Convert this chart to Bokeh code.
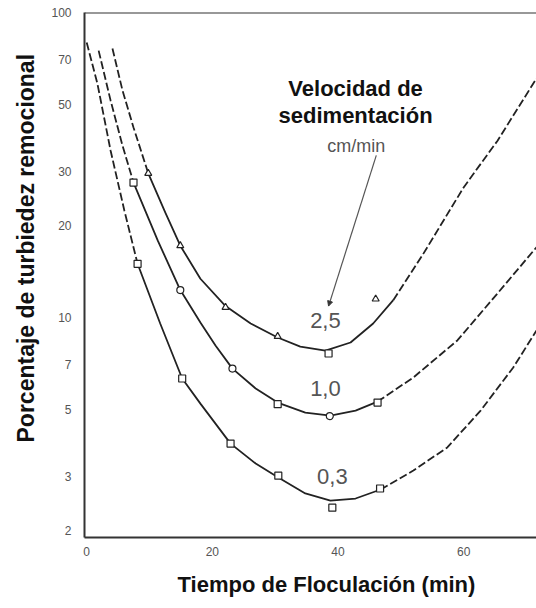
from bokeh.plotting import figure
from bokeh.models import (FixedTicker, NumeralTickFormatter, Title, Span, Arrow,
                          NormalHead, ColumnDataSource)
from bokeh.core.properties import value
from bokeh.embed import file_html
from bokeh.resources import INLINE

# ---------------- data ----------------
x_ticks = [0, 20, 40, 60]
y_ticks = [2, 3, 5, 7, 10, 20, 30, 50, 70, 100]

# 2,5 cm/min curve
c25_left_t = [4.1, 5.7, 7.45, 9.8]
c25_left_v = [76.2, 55.5, 42.0, 29.7]
c25_mid_t = [9.8, 12.5, 14.9, 18.1, 22.1, 26.1, 30.4, 34.0, 38.0, 42.0, 45.6, 48.8]
c25_mid_v = [29.7, 22.1, 17.2, 13.4, 10.9, 9.56, 8.60, 8.03, 7.79, 8.28, 9.56, 11.4]
c25_right_t = [48.8, 53.6, 60.0, 65.4, 71.6]
c25_right_v = [11.4, 16.2, 26.7, 38.0, 60.8]
c25_pts_t = [9.8, 14.9, 22.1, 30.4, 38.5, 46.0]
c25_pts_v = [29.7, 17.2, 10.8, 8.67, 7.62, 11.5]
c25_marks = ["triangle", "triangle", "triangle", "triangle", "square", "triangle"]

# 1,0 cm/min curve
c10_left_t = [1.9, 3.8, 5.7, 7.45]
c10_left_v = [75.0, 51.5, 36.6, 27.7]
c10_mid_t = [7.45, 11.3, 14.9, 18.1, 20.5, 23.2, 26.9, 30.4, 34.8, 38.8, 42.8, 46.3]
c10_mid_v = [27.7, 17.9, 12.3, 9.63, 8.09, 6.80, 5.85, 5.26, 4.88, 4.77, 4.95, 5.30]
c10_right_t = [46.3, 52.0, 59.0, 65.4, 71.6]
c10_right_v = [5.30, 6.36, 8.41, 12.0, 17.0]
c10_pts_t = [7.45, 14.9, 23.2, 30.4, 38.7, 46.3]
c10_pts_v = [27.7, 12.3, 6.80, 5.20, 4.75, 5.26]
c10_marks = ["square", "circle", "circle", "square", "circle", "square"]

# 0,3 cm/min curve
c03_left_t = [0.0, 1.7, 3.8, 6.0, 8.1]
c03_left_v = [79.7, 58.5, 35.3, 22.4, 15.0]
c03_mid_t = [8.1, 11.7, 15.2, 18.1, 22.9, 26.9, 30.5, 34.8, 38.8, 42.8, 46.8]
c03_mid_v = [15.0, 9.56, 6.31, 5.22, 3.86, 3.32, 2.99, 2.65, 2.51, 2.55, 2.73]
c03_right_t = [46.8, 52.0, 57.4, 62.7, 67.9, 71.6]
c03_right_v = [2.73, 3.15, 3.75, 4.95, 6.86, 9.06]
c03_pts_t = [8.1, 15.2, 22.9, 30.5, 39.1, 46.7]
c03_pts_v = [15.0, 6.31, 3.86, 3.03, 2.38, 2.75]
c03_marks = ["square"] * 6

curve_labels = ["2,5", "1,0", "0,3"]
curve_label_t = [38.0, 38.0, 39.1]
curve_label_v = [9.78, 5.85, 3.01]

legend_title = ["Velocidad de", "sedimentación"]
legend_title_t = [42.8, 42.8]
legend_title_v = [56.3, 45.9]
unit_text = ["cm/min"]
unit_t = [42.9]
unit_v = [36.4]
leader_t = [46.1, 38.5]
leader_v = [34.0, 10.9]

x_title = "Tiempo de Floculación (min)"
y_title = "Porcentaje de turbiedez remocional"

# ---------------- figure ----------------
INK = "#222222"
p = figure(width=536, height=608, x_range=(-0.35, 71.6), y_range=(1.9, 100),
           y_axis_type="log", output_backend="svg", toolbar_location=None,
           min_border_left=84, min_border_top=12, min_border_right=0,
           min_border_bottom=71)
p.outline_line_color = None
p.xgrid.grid_line_color = None
p.ygrid.grid_line_color = None
p.background_fill_color = "white"

for ax in (p.xaxis[0], p.yaxis[0]):
    ax.axis_line_color = "#333333"
    ax.axis_line_width = 2
    ax.major_tick_line_color = None
    ax.minor_tick_line_color = None
    ax.major_tick_out = 0
    ax.minor_tick_out = 0
    ax.major_label_text_font = "Liberation Sans"
    ax.major_label_text_font_size = "12px"
    ax.major_label_text_color = "#555555"

p.xaxis.ticker = FixedTicker(ticks=x_ticks, minor_ticks=[])
p.yaxis.ticker = FixedTicker(ticks=y_ticks, minor_ticks=[])
p.yaxis.formatter = NumeralTickFormatter(format="0")
p.xaxis.formatter = NumeralTickFormatter(format="0")
p.yaxis.major_label_standoff = 13
p.xaxis.major_label_standoff = 9

p.add_layout(Span(location=100, dimension="width", line_color="#333333", line_width=2))

curves = [
    (c25_left_t, c25_left_v, c25_mid_t, c25_mid_v, c25_right_t, c25_right_v,
     c25_pts_t, c25_pts_v, c25_marks),
    (c10_left_t, c10_left_v, c10_mid_t, c10_mid_v, c10_right_t, c10_right_v,
     c10_pts_t, c10_pts_v, c10_marks),
    (c03_left_t, c03_left_v, c03_mid_t, c03_mid_v, c03_right_t, c03_right_v,
     c03_pts_t, c03_pts_v, c03_marks),
]
for lt, lv, mt, mv, rt, rv, pt, pv, mk in curves:
    p.line(lt, lv, line_color=INK, line_width=1.8, line_dash="8 3")
    p.line(mt, mv, line_color=INK, line_width=1.8)
    p.line(rt, rv, line_color=INK, line_width=1.8, line_dash="8 3")
    src = ColumnDataSource(dict(t=pt, v=pv, m=mk))
    p.scatter("t", "v", marker="m", source=src, size=7, fill_color="white",
              line_color=INK, line_width=1.2)

p.text(x=curve_label_t, y=curve_label_v, text=curve_labels,
       text_font=value("Liberation Sans"), text_font_size=value("22px"),
       text_color="#555555", text_align="center", text_baseline="middle")
p.text(x=legend_title_t, y=legend_title_v, text=legend_title,
       text_font=value("Liberation Sans"), text_font_size=value("22px"),
       text_font_style="bold", text_color="#111111", text_align="center",
       text_baseline="alphabetic")
p.text(x=unit_t, y=unit_v, text=unit_text,
       text_font=value("Liberation Sans"), text_font_size=value("18px"),
       text_color="#555555", text_align="center", text_baseline="alphabetic")
p.add_layout(Arrow(x_start=leader_t[0], y_start=leader_v[0],
                   x_end=leader_t[1], y_end=leader_v[1],
                   line_color="#555555", line_width=1.2,
                   end=NormalHead(size=5, fill_color="#333333", line_color="#333333")))

p.add_layout(Title(text=y_title, align="left", offset=95, standoff=19,
                   text_font="Liberation Sans", text_font_size="23px",
                   text_font_style="bold", text_color="#111111"), "left")
p.add_layout(Title(text=x_title, align="left", offset=93, standoff=23,
                   text_font="Liberation Sans", text_font_size="22px",
                   text_font_style="bold", text_color="#111111"), "below")

open("out.html", "w").write(file_html(p, INLINE))
